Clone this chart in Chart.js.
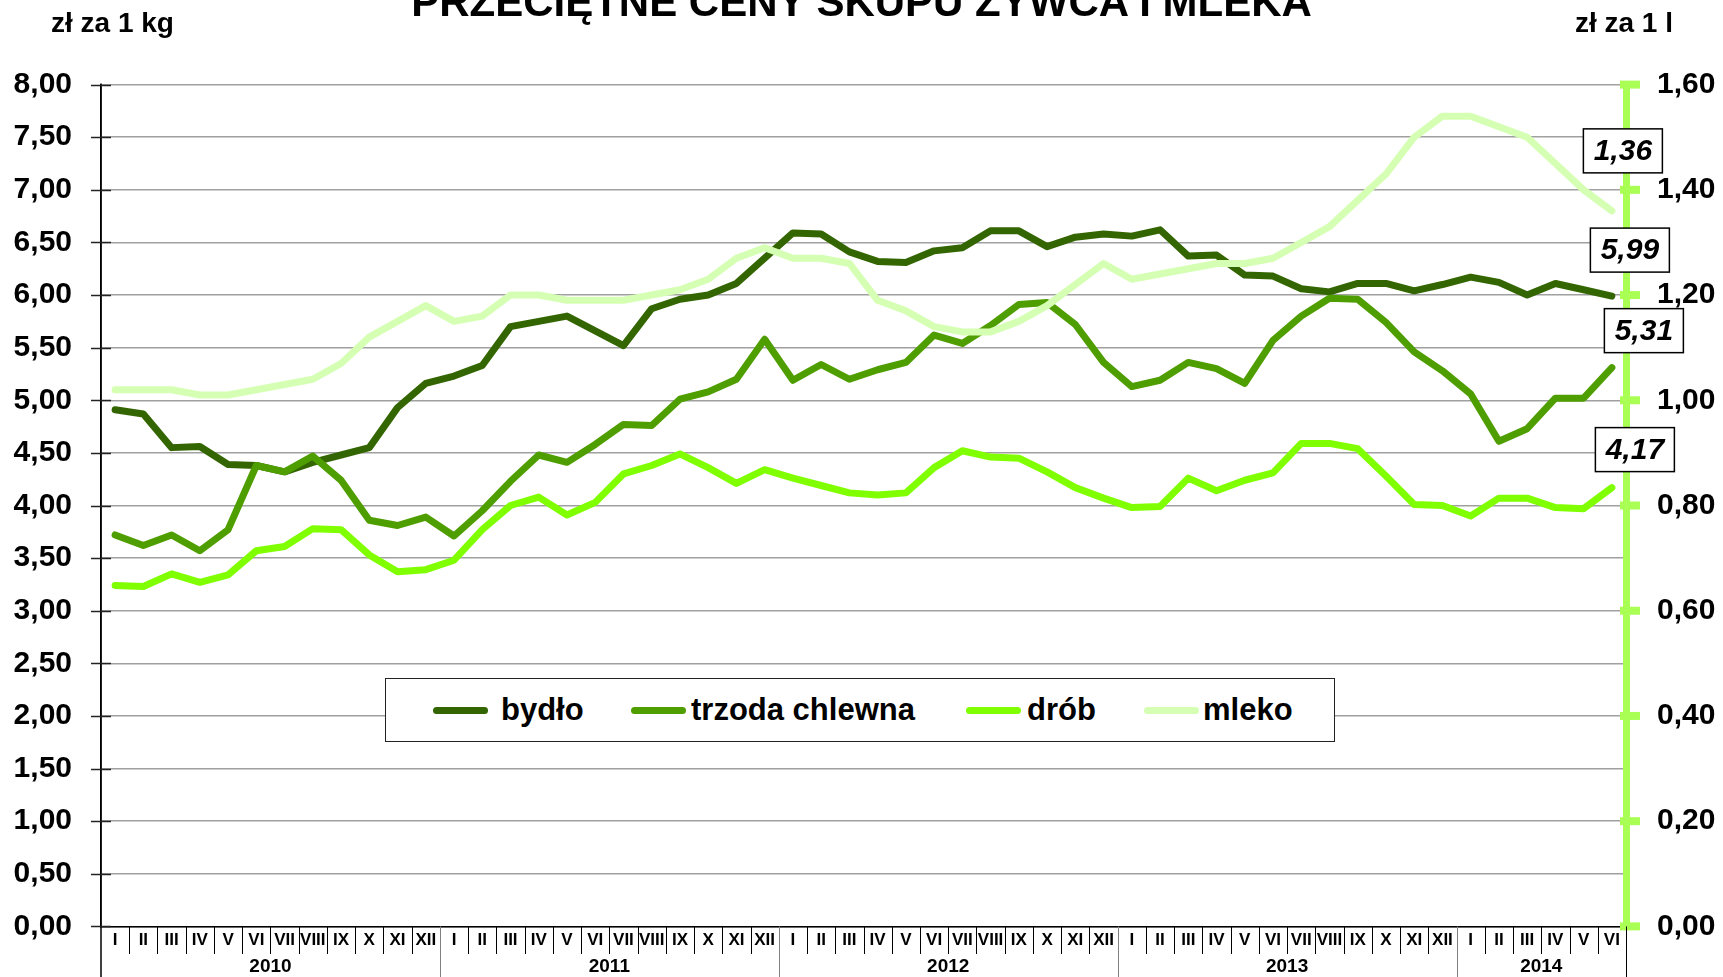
<!DOCTYPE html>
<html><head><meta charset="utf-8">
<script src="https://cdn.jsdelivr.net/npm/chart.js@4.4.1/dist/chart.umd.min.js"></script>
<style>
html,body{margin:0;padding:0;background:#fff;}
#wrap{position:relative;width:1723px;height:977px;overflow:hidden;font-family:'Liberation Sans',Arial,sans-serif;}
canvas{position:absolute;left:0;top:0;}
.t{position:absolute;font-weight:bold;color:#000;white-space:nowrap;}
#title{left:0;width:1723px;top:-19px;font-size:42px;line-height:42px;text-align:center;}
#unitL{left:51px;top:9px;font-size:28px;line-height:28px;}
#unitR{right:50px;top:9px;font-size:28px;line-height:28px;}
#legend{position:absolute;left:385px;top:678px;width:950px;height:64px;box-sizing:border-box;border:1.5px solid #222;background:#fff;}
#legend .s{position:absolute;top:28px;width:55px;height:7px;border-radius:4px;}
#legend .l{position:absolute;top:0;height:61px;line-height:61px;font-size:31px;font-weight:bold;color:#000;white-space:nowrap;}
</style></head>
<body><div id="wrap">
<canvas id="c" width="1723" height="977"></canvas>
<div class="t" id="title">PRZECIĘTNE CENY SKUPU ŻYWCA I MLEKA</div>
<div class="t" id="unitL">zł za 1 kg</div>
<div class="t" id="unitR">zł za 1 l</div>
<div id="legend"></div>
</div>
<script>
// ---- data ----
const romanMonths = ['I','II','III','IV','V','VI','VII','VIII','IX','X','XI','XII'];
const years = ['2010','2011','2012','2013','2014'];
const monthsPerYear = [12,12,12,12,6];
const seriesNames = ['bydło','trzoda chlewna','drób','mleko'];

const bydlo = [4.91,4.87,4.55,4.56,4.39,4.38,4.32,4.41,4.48,4.55,4.93,5.16,
               5.23,5.33,5.70,5.75,5.80,5.66,5.52,5.87,5.96,6.00,6.11,6.35,
               6.59,6.58,6.41,6.32,6.31,6.42,6.45,6.61,6.61,6.46,6.55,6.58,
               6.56,6.62,6.37,6.38,6.19,6.18,6.06,6.03,6.11,6.11,6.04,6.10,
               6.17,6.12,6.00,6.11,6.05,5.99];
const trzoda = [3.72,3.62,3.72,3.57,3.77,4.38,4.32,4.47,4.24,3.86,3.81,3.89,
                3.71,3.95,4.23,4.48,4.41,4.58,4.77,4.76,5.01,5.08,5.20,5.58,
                5.19,5.34,5.20,5.29,5.36,5.62,5.54,5.71,5.91,5.93,5.72,5.36,
                5.13,5.19,5.36,5.30,5.16,5.57,5.80,5.97,5.96,5.74,5.46,5.28,
                5.06,4.61,4.73,5.02,5.02,5.31];
const drob = [3.24,3.23,3.35,3.27,3.34,3.57,3.61,3.78,3.77,3.53,3.37,3.39,
              3.48,3.77,4.00,4.08,3.91,4.03,4.30,4.38,4.49,4.36,4.21,4.34,
              4.26,4.19,4.12,4.10,4.12,4.36,4.52,4.46,4.45,4.32,4.17,4.07,
              3.98,3.99,4.26,4.14,4.24,4.31,4.59,4.59,4.54,4.28,4.01,4.00,
              3.90,4.07,4.07,3.98,3.97,4.17];
const mleko = [1.02,1.02,1.02,1.01,1.01,1.02,1.03,1.04,1.07,1.12,1.15,1.18,
               1.15,1.16,1.20,1.20,1.19,1.19,1.19,1.20,1.21,1.23,1.27,1.29,
               1.27,1.27,1.26,1.19,1.17,1.14,1.13,1.13,1.15,1.18,1.22,1.26,
               1.23,1.24,1.25,1.26,1.26,1.27,1.30,1.33,1.38,1.43,1.50,1.54,
               1.54,1.52,1.50,1.45,1.40,1.36];

// ---- style ----
const colors = ['#336600','#4f9e00','#80ff00','#d5ffb3'];
const axisGreen = '#aaff55';
const FONT = "'Liberation Sans', Arial, sans-serif";
// offsets of value boxes from last point (px)
const boxOffsets = [[18,-46],[32,-37],[23,-38],[11,-60]];

const labels = [];
years.forEach((y,i)=>{ for(let m=0;m<monthsPerYear[i];m++) labels.push(romanMonths[m]); });

const fmt = v => Number(v).toFixed(2).replace('.', ',');

// legend
const legendPos = [[47,115],[245,305],[580,641],[758,817]];
const lg = document.getElementById('legend');
seriesNames.forEach((n,i)=>{
  const s=document.createElement('div'); s.className='s'; s.style.left=legendPos[i][0]+'px'; s.style.background=colors[i]; lg.appendChild(s);
  const l=document.createElement('div'); l.className='l'; l.style.left=legendPos[i][1]+'px'; l.textContent=n; lg.appendChild(l);
});

const decor = {
  id:'decor',
  afterDraw(chart){
    const {ctx, chartArea:a, scales} = chart;
    const x=scales.x, y=scales.y, y1=scales.y1;
    ctx.save();
    const line=(x1,y1_,x2,y2)=>{ctx.beginPath();ctx.moveTo(x1,y1_);ctx.lineTo(x2,y2);ctx.stroke();};
    // left axis extension and crossing ticks
    ctx.strokeStyle='#000'; ctx.lineWidth=1.5;
    line(a.left, a.top-1, a.left, 977);
    ctx.strokeStyle='#222'; ctx.lineWidth=1.5;
    y.ticks.forEach(t=>{const py=Math.round(y.getPixelForValue(t.value))+0.5; line(a.left-10,py,a.left+10,py);});
    // right axis ticks
    ctx.fillStyle=axisGreen;
    y1.ticks.forEach(t=>{const py=y1.getPixelForValue(t.value); ctx.fillRect(a.right-9+3, py-4, 20, 8);});
    // separators
    const p0=x.getPixelForValue(0), cw=x.getPixelForValue(1)-p0;
    const total=labels.length;
    const yb=[]; let acc=0; monthsPerYear.forEach(n=>{yb.push(acc); acc+=n;}); yb.push(acc);
    for(let k=1;k<=total;k++){
      const bx=Math.round(p0-cw/2+k*cw)+0.5;
      if(yb.includes(k)){
        ctx.strokeStyle = k===total ? '#000' : '#808080'; ctx.lineWidth=1;
        line(bx,a.bottom,bx,977);
      } else {
        ctx.strokeStyle='#000'; ctx.lineWidth=1;
        line(bx,a.bottom,bx,954);
      }
    }
    // year labels
    ctx.fillStyle='#000'; ctx.font='bold 19px '+FONT; ctx.textAlign='center'; ctx.textBaseline='middle';
    years.forEach((yr,i)=>{
      const s=yb[i], e=yb[i+1]-1;
      const cx=(x.getPixelForValue(s)+x.getPixelForValue(e))/2;
      ctx.fillText(yr,cx,967);
    });
    // value boxes
    ctx.font='italic bold 30px '+FONT;
    chart.data.datasets.forEach((ds,i)=>{
      const meta=chart.getDatasetMeta(i);
      const last=meta.data[meta.data.length-1];
      const v=ds.data[ds.data.length-1];
      const cx=last.x+boxOffsets[i][0], cy=last.y+boxOffsets[i][1];
      const w=79,h=44;
      ctx.fillStyle='#fff'; ctx.fillRect(cx-w/2,cy-h/2,w,h);
      ctx.strokeStyle='#000'; ctx.lineWidth=1.5; ctx.strokeRect(cx-w/2,cy-h/2,w,h);
      ctx.fillStyle='#000'; ctx.fillText(fmt(v),cx,cy+1);
    });
    ctx.restore();
  }
};

const mk=(label,data,i,axis,order)=>({label,data,yAxisID:axis,borderColor:colors[i],backgroundColor:colors[i],
  borderWidth:7,pointRadius:0,pointHoverRadius:0,tension:0,borderCapStyle:'round',borderJoinStyle:'round',fill:false,order});

new Chart(document.getElementById('c'),{
  type:'line',
  data:{labels, datasets:[
    mk(seriesNames[0],bydlo,0,'y',3),
    mk(seriesNames[1],trzoda,1,'y',2),
    mk(seriesNames[2],drob,2,'y',1),
    mk(seriesNames[3],mleko,3,'y1',0)
  ]},
  options:{
    responsive:false, animation:false, devicePixelRatio:1,
    layout:{padding:{top:84.6,left:0,right:0,bottom:0}},
    plugins:{legend:{display:false},title:{display:false},tooltip:{enabled:false}},
    scales:{
      x:{offset:true, grid:{display:false, drawTicks:false}, border:{display:true,color:'#000',width:1.5},
         ticks:{autoSkip:false,maxRotation:0,minRotation:0,padding:4,color:'#000',font:{family:FONT,size:17,weight:'bold'}},
         afterFit:s=>{s.height=50.6;}},
      y:{position:'left',min:0,max:8,
         grid:{color:'#a0a0a0',lineWidth:1.5,drawTicks:false},
         border:{display:true,color:'#000',width:1.5},
         ticks:{stepSize:0.5,padding:29,color:'#000',font:{family:FONT,size:30,weight:'bold'},callback:v=>fmt(v)},
         afterFit:s=>{s.width=101;}},
      y1:{position:'right',min:0,max:1.6,
         grid:{drawOnChartArea:false,drawTicks:false},
         border:{display:true,color:axisGreen,width:7},
         ticks:{stepSize:0.2,padding:31,color:'#000',font:{family:FONT,size:30,weight:'bold'},callback:v=>fmt(v)},
         afterFit:s=>{s.width=97;}}
    }
  },
  plugins:[decor]
});
</script>
</body></html>
